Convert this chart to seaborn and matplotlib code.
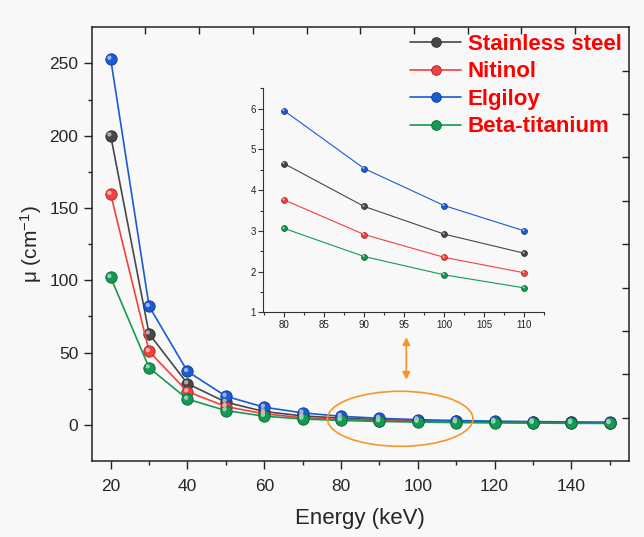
import matplotlib
matplotlib.use("Agg")
import matplotlib.pyplot as plt
import matplotlib.transforms as mtransforms
import matplotlib.colors as mcolors
from matplotlib.patches import Ellipse
from matplotlib.lines import Line2D
import pandas as pd
import seaborn as sns

# Linear attenuation coefficient of orthodontic wire alloys vs photon energy
energy = [20, 30, 40, 50, 60, 70, 80, 90, 100, 110, 120, 130, 140, 150]
stainless_steel = [200, 63, 28.5, 15.7, 9.2, 6.2, 4.65, 3.6, 2.92, 2.45, 2.12, 1.87, 1.67, 1.52]
nitinol = [159.5, 50.8, 23, 12.7, 7.6, 5.0, 3.76, 2.91, 2.35, 1.97, 1.7, 1.5, 1.35, 1.23]
elgiloy = [253, 82, 37, 19.8, 12.2, 8.3, 5.95, 4.53, 3.62, 3.0, 2.58, 2.27, 2.03, 1.85]
beta_titanium = [102, 39.5, 17.8, 9.9, 6.0, 4.1, 3.06, 2.37, 1.92, 1.6, 1.38, 1.22, 1.1, 1.0]

series_names = ["Stainless steel", "Nitinol", "Elgiloy", "Beta-titanium"]
series_values = [stainless_steel, nitinol, elgiloy, beta_titanium]
series_colors = ["#474747", "#f2413f", "#1a5bd4", "#139a52"]

# zoomed energy window shown in the inset
inset_energy = [80, 90, 100, 110]

sns.set_style("ticks")
plt.rcParams["font.family"] = ["Liberation Sans", "DejaVu Sans"]
plt.rcParams["mathtext.default"] = "regular"

bg = "#f8f8f8"
fig = plt.figure(figsize=(6.44, 5.37), dpi=100, facecolor=bg)
ax = fig.add_axes([0.1421, 0.1415, 0.8346, 0.8076], facecolor=bg)


def lighten(c, f):
    r, g, b = mcolors.to_rgb(c)
    return (r + (1 - r) * f, g + (1 - g) * f, b + (1 - b) * f)


def darken(c, f):
    r, g, b = mcolors.to_rgb(c)
    return (r * (1 - f), g * (1 - f), b * (1 - f))


def ball_series(axis, x, y, color, lw, ms, label=None):
    sns.lineplot(x=x, y=y, ax=axis, color=color, lw=lw, marker="o",
                 markersize=ms, markerfacecolor=color,
                 markeredgecolor=darken(color, 0.35), markeredgewidth=0.6,
                 label=label, legend=False, sort=False)
    shift = mtransforms.offset_copy(axis.transData, fig=fig,
                                    x=-ms * 0.12, y=ms * 0.12, units="points")
    axis.scatter(x, y, s=(ms * 0.38) ** 2, color=lighten(color, 0.55),
                 edgecolors="none", transform=shift, zorder=5)


for name, vals, col in zip(series_names, series_values, series_colors):
    ball_series(ax, energy, vals, col, 1.2, 8.2)

ax.set_xlim(15, 155)
ax.set_ylim(-25, 275)
ax.set_xticks([20, 40, 60, 80, 100, 120, 140])
ax.set_xticks([30, 50, 70, 90, 110, 130, 150], minor=True)
ax.set_yticks([0, 50, 100, 150, 200, 250])
ax.set_yticks([25, 75, 125, 175, 225], minor=True)
ax.tick_params(axis="both", which="major", direction="out", length=6,
               width=1.0, labelsize=12.5, color="#222222")
ax.tick_params(axis="x", which="major", pad=7)
ax.tick_params(axis="both", which="minor", direction="out", length=3,
               width=1.0, color="#222222")
ax.tick_params(top=False, right=False)
for s in ax.spines.values():
    s.set_visible(True)
    s.set_linewidth(1.1)
    s.set_color("#222222")
ax.set_xlabel("Energy (keV)", fontsize=16, labelpad=10)
ax.set_ylabel("μ (cm$^{-1}$)", fontsize=15, labelpad=4)

# inward ticks on the mirrored top and right edges
frame = fig.add_axes(ax.get_position().bounds, frameon=False)
frame.set_xlim(0, 1)
frame.set_ylim(0, 1)
frame.set_xticks([i / 10 for i in range(1, 10)])
frame.set_yticks([i / 10 for i in range(1, 10)])
frame.tick_params(bottom=False, left=False, labelbottom=False, labelleft=False,
                  top=True, right=True, direction="in", length=5, width=1.0,
                  color="#222222")
frame.patch.set_visible(False)

# highlight of the zoomed region
ax.add_patch(Ellipse((95.4, 4.2), 37.9, 38.1, fill=False,
                     edgecolor="#f5962a", lw=1.2, zorder=6))
ax.annotate("", xy=(97.0, 31.2), xytext=(97.0, 60.7),
            arrowprops=dict(arrowstyle="<|-|>", color="#f5962a", lw=1.3,
                            mutation_scale=11, shrinkA=0, shrinkB=0))

# legend
handles = [Line2D([], [], color=c, lw=1.2, marker="o", markersize=7,
                  markerfacecolor=c, markeredgecolor=darken(c, 0.35),
                  markeredgewidth=0.6) for c in series_colors]
leg = ax.legend(handles, series_names, loc="upper left",
                bbox_to_anchor=(410 / 644, 1 - 34 / 537),
                bbox_transform=fig.transFigure, frameon=False,
                borderpad=0, borderaxespad=0, handlelength=2.3,
                handletextpad=0.3, labelspacing=0.29,
                prop={"size": 16, "weight": "bold"})
for t in leg.get_texts():
    t.set_color("#ff0000")

# inset: 80-110 keV
ins = fig.add_axes([0.4089, 0.4184, 0.4363, 0.4171], facecolor=bg)
ins.patch.set_alpha(0)
idx = [energy.index(e) for e in inset_energy]
for vals, col in zip(series_values, series_colors):
    ball_series(ins, inset_energy, [vals[i] for i in idx], col, 0.8, 4.2)
ins.set_xlim(77.4, 112.5)
ins.set_ylim(1, 6.5)
ins.set_xticks([80, 85, 90, 95, 100, 105, 110])
ins.set_xticks([77.5, 82.5, 87.5, 92.5, 97.5, 102.5, 107.5, 112.5], minor=True)
ins.set_yticks([1, 2, 3, 4, 5, 6])
ins.set_yticks([1.5, 2.5, 3.5, 4.5, 5.5, 6.5], minor=True)
ins.tick_params(which="major", direction="out", length=3.5, width=0.8,
                labelsize=7, color="#333333", labelcolor="#222222", pad=2)
ins.tick_params(which="minor", direction="out", length=2, width=0.8,
                color="#333333")
for side in ["top", "right"]:
    ins.spines[side].set_visible(False)
for side in ["left", "bottom"]:
    ins.spines[side].set_linewidth(0.8)
    ins.spines[side].set_color("#333333")
ins.set_xlabel("")
ins.set_ylabel("")

fig.savefig("out.png", dpi=100, facecolor=bg)
